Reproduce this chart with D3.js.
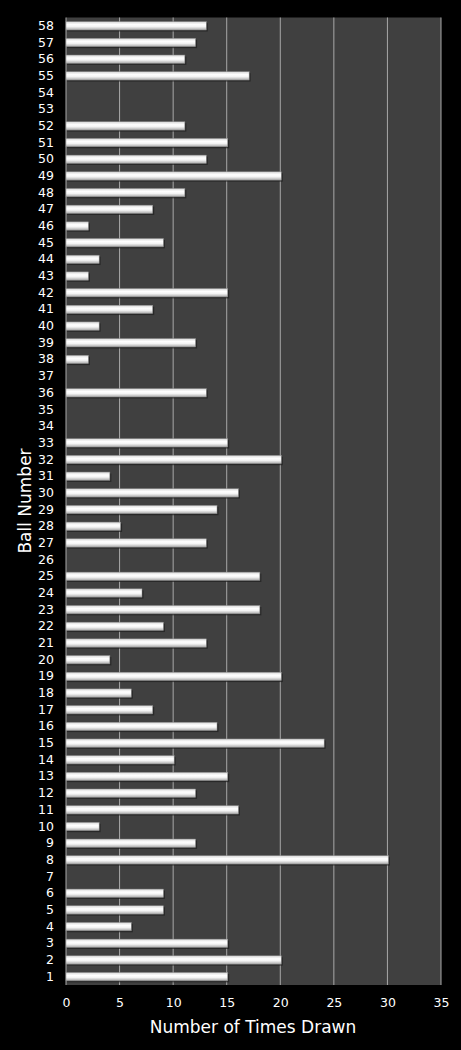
<!DOCTYPE html>
<html><head><meta charset="utf-8">
<script src="https://cdn.jsdelivr.net/npm/d3@7"></script>
<style>body{margin:0;background:#000;}svg{display:block;}</style>
</head><body>
<script>
const balls = d3.range(1, 59).map(String);
const counts = [15,20,15,6,9,9,0,30,12,3,16,12,15,10,24,14,8,6,20,4,13,9,18,7,18,0,13,5,14,16,4,20,15,0,0,13,0,2,12,3,8,15,2,3,9,2,8,11,20,13,15,11,0,0,17,11,12,13];
const xTicks = [0,5,10,15,20,25,30,35];
const xTitle = "Number of Times Drawn";
const yTitle = "Ball Number";

const W = 461, H = 1050;
const m = {left: 66, right: 20, top: 17.5, bottom: 65};
const svg = d3.select("body").append("svg").attr("width", W).attr("height", H);
svg.append("rect").attr("width", W).attr("height", H).attr("fill", "#000");

const x = d3.scaleLinear().domain([0, 35]).range([m.left, W - m.right]);
const y = d3.scaleBand().domain(balls.slice().reverse()).range([m.top, H - m.bottom]).paddingInner(0.5).paddingOuter(0.25);

const defs = svg.append("defs");
const g = defs.append("linearGradient").attr("id", "bg").attr("x1", 0).attr("x2", 0).attr("y1", 0).attr("y2", 1);
g.append("stop").attr("offset", "0%").attr("stop-color", "#d8d8d8");
g.append("stop").attr("offset", "35%").attr("stop-color", "#ffffff");
g.append("stop").attr("offset", "60%").attr("stop-color", "#f4f4f4");
g.append("stop").attr("offset", "100%").attr("stop-color", "#a8a8a8");

svg.append("rect").attr("x", m.left).attr("y", m.top)
  .attr("width", x(35) - m.left).attr("height", H - m.bottom - m.top).attr("fill", "#404040");

svg.append("g").selectAll("line").data(xTicks).join("line")
  .attr("x1", d => x(d)).attr("x2", d => x(d))
  .attr("y1", m.top).attr("y2", H - m.bottom)
  .attr("stroke", "#a8a8a8").attr("stroke-width", 1);

const data = balls.map((b, i) => ({b, v: counts[i]})).filter(d => d.v > 0);
svg.append("g").selectAll("rect").data(data).join("rect")
  .attr("x", x(0) + 1).attr("y", d => y(d.b) + 1.5)
  .attr("width", d => x(d.v) - x(0) + 1.5).attr("height", y.bandwidth())
  .attr("fill", "#1e1e1e").attr("opacity", 0.7);
svg.append("g").selectAll("rect").data(data).join("rect")
  .attr("x", x(0)).attr("y", d => y(d.b))
  .attr("width", d => x(d.v) - x(0) + 1).attr("height", y.bandwidth())
  .attr("fill", "url(#bg)").attr("stroke", "#8a8a8a").attr("stroke-width", 0.5);

const font = "DejaVu Sans, Verdana, sans-serif";
const xa = svg.append("g").attr("transform", `translate(0,${H - m.bottom})`)
  .call(d3.axisBottom(x).tickValues(xTicks).tickSize(0).tickPadding(13));
xa.select(".domain").remove();
xa.selectAll("text").attr("fill", "#fff").style("font-family", font).style("font-size", "12.5px");

const ya = svg.append("g").attr("transform", `translate(${m.left},0)`)
  .call(d3.axisLeft(y).tickSize(0).tickPadding(12));
ya.select(".domain").remove();
ya.selectAll("text").attr("fill", "#fff").style("font-family", font).style("font-size", "12.5px");

svg.append("text").attr("x", 253).attr("y", 1033).attr("text-anchor", "middle")
  .attr("fill", "#fff").style("font-family", font).style("font-size", "17px").text(xTitle);
svg.append("text").attr("transform", "translate(31,501) rotate(-90)").attr("text-anchor", "middle")
  .attr("fill", "#fff").style("font-family", font).style("font-size", "17px").text(yTitle);
</script>
</body></html>
